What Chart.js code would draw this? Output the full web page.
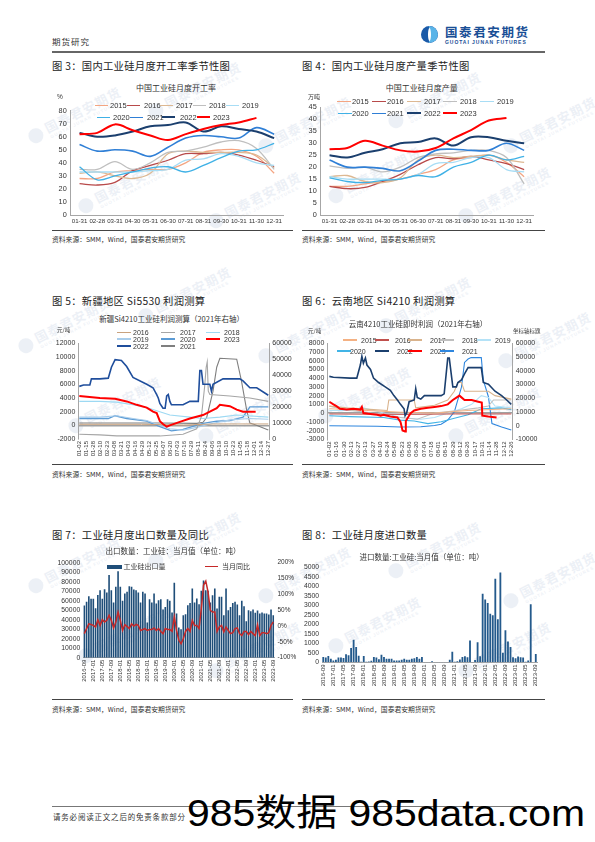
<!DOCTYPE html>
<html><head><meta charset="utf-8">
<script src="https://cdn.jsdelivr.net/npm/chart.js@4.4.0/dist/chart.umd.min.js"></script>
<style>
body{margin:0;background:#fff;}
#page{position:relative;width:595px;height:842px;overflow:hidden;font-family:"Noto Sans CJK SC",sans-serif;color:#222;background:#fff;}
</style></head><body><div id="page"></div>
<script>
// ---------------- DATA ----------------
const monthLabels = ['01-31','02-28','03-31','04-30','05-31','06-30','07-31','08-31','09-30','10-31','11-30','12-31'];
const yearNames = ['2015','2016','2017','2018','2019','2020','2021','2022','2023'];
// Fig 3: operating rate (%)
const rate2015 = [28,28,33,34,35,35,40,48,50,50,45,32];
const rate2016 = [24,23,25,34,38,42,47,47,48,46,42,37];
const rate2017 = [32,33,30,28,32,47,49,48,48,48,46,36];
const rate2018 = [35,35,41,35,40,48,49,52,56,57,51,35];
const rate2019 = [33,33,33,33,34,35,42,43,47,45,40,38];
const rate2020 = [37,27,30,33,36,37,33,38,44,49,50,55];
const rate2021 = [54,49,50,49,45,52,59,61,60,59,67,62];
const rate2022 = [63,60,61,64,68,69,71,64,68,66,64,59];
const rate2023 = [62,63,69.5,65,61,57.5,62,66,69,71,74.5];
// Fig 4: output (10k t)
const out2015 = [12,12,13,14,15,17,19,23,24,25,22,16];
const out2016 = [12,11,11.5,14,17,21,24,23.5,24.5,23,21.5,19];
const out2017 = [16,16.5,14,13.5,15.5,23,25,24,24.5,25,23,22];
const out2018 = [20.5,19.5,20,18,20,24,25.5,26,27,27,24,13];
const out2019 = [16,15,15,15,15,17,21.5,22,24,24,19,18];
const out2020 = [15.5,14,13.5,14.5,15,16.5,16,20,22,25,23,24.5];
const out2021 = [23,20,20,19.5,18.5,22.5,27,27.5,27,27,30,27];
const out2022 = [25,24,26,27.5,30,30.5,32,29,32.5,32.5,31,30];
const out2023 = [27.5,28,31,29,27,26.5,28,32,35.5,39.5,40.5];
// Fig 5: Xinjiang profit, [day-of-year, yuan/t]; 2021 on right axis
const xLabels5 = ['01-02','01-15','01-28','02-10','02-23','03-08','03-21','04-03','04-16','04-29','05-12','05-25','06-07','06-20','07-03','07-16','07-29','08-11','08-24','09-06','09-19','10-10','10-23','11-05','11-18','12-01','12-14','12-27'];
const xj2016 = [[2,150],[120,150],[200,50],[260,200],[361,200]];
const xj2017 = [[2,-1300],[41,-1400],[73,-1550],[155,-1550],[199,-1300],[225,-500],[234,1300],[240,5600],[243,8500],[245,9300],[247,5000],[250,4500],[288,4300],[326,4000],[361,3500]];
const xj2018 = [[2,3500],[41,3500],[73,3400],[104,3000],[130,2600],[155,2000],[174,1500],[212,1200],[237,1000],[269,1200],[301,1500],[361,1200]];
const xj2019 = [[2,1200],[41,1200],[73,1400],[104,1000],[130,700],[155,0],[174,-500],[199,-700],[225,-300],[256,300],[288,800],[326,1000],[361,900]];
const xj2020 = [[2,1000],[57,1000],[70,1400],[92,1000],[130,600],[155,-200],[177,-800],[199,-600],[237,300],[263,600],[288,700],[313,1200],[326,2700],[361,2700]];
const xj2022 = [[2,5700],[10,5900],[22,5900],[25,6800],[41,6800],[57,6900],[63,8500],[70,9600],[82,9500],[92,8600],[104,7000],[130,6000],[142,5500],[149,4500],[152,4000],[155,3200],[161,2500],[165,2500],[168,4300],[171,4500],[174,3500],[177,3000],[199,3000],[212,3500],[228,3500],[231,8000],[234,8000],[237,6000],[250,6000],[253,5000],[256,6000],[275,6800],[307,6800],[313,6500],[326,5500],[339,5500],[361,4400]];
const xj2023 = [[2,4300],[41,4000],[70,3900],[92,3500],[111,3000],[130,2600],[142,2000],[149,1800],[155,600],[161,200],[168,-200],[174,0],[193,500],[212,1000],[237,1500],[250,2000],[263,2500],[269,3000],[288,2800],[301,2300],[313,2000],[337,2000]];
const xj2021 = [[2,10000],[155,10000],[225,9800],[237,10500],[244,13500],[256,30000],[263,45000],[269,50600],[301,50000],[310,36500],[320,18000],[326,10000],[336,9000],[361,5600]];
// Fig 6: Yunnan profit, [day-of-year, yuan/t]; 2021 on right axis
const xLabels6 = ['01-02','01-16','01-30','02-13','02-27','03-13','03-27','04-10','04-24','05-08','05-23','06-06','06-20','07-04','07-18','08-01','08-15','08-29','09-12','09-26','10-17','10-31','11-14','11-28','12-12','12-26'];
const yn2015 = [[2,500],[76,300],[142,100],[209,0],[275,300],[360,500]];
const yn2016 = [[2,-100],[150,-150],[250,-100],[360,-100]];
const yn2017 = [[2,800],[36,600],[89,400],[116,300],[119,1500],[169,1500],[172,600],[209,900],[235,1500],[248,2500],[255,3500],[262,3500],[268,2500],[315,2500],[328,2000],[360,1600]];
const yn2018 = [[2,800],[43,300],[76,100],[109,-300],[142,-500],[175,-700],[209,0],[255,300],[295,600],[315,800],[325,1500],[360,1500]];
const yn2019 = [[2,300],[56,300],[63,700],[76,500],[109,0],[142,-500],[182,-700],[209,-500],[235,0],[262,500],[282,1000],[301,2000],[315,1800],[328,800],[360,600]];
const yn2020 = [[2,-300],[43,-400],[109,-500],[142,-800],[169,-900],[196,-1200],[222,-1000],[248,-600],[275,-200],[301,500],[341,600],[360,400]];
const yn2022 = [[2,4200],[10,4100],[43,4000],[56,4000],[63,5500],[66,6500],[69,5700],[73,6300],[76,5500],[83,5000],[89,4000],[99,3500],[112,3000],[122,2600],[129,2000],[136,1500],[142,1000],[149,500],[151,-300],[154,0],[159,1300],[169,1500],[172,2800],[175,1800],[182,1600],[189,2000],[222,2000],[228,2200],[235,6300],[238,6300],[245,3000],[252,3000],[255,3500],[262,3800],[268,4500],[275,5200],[301,5200],[305,3500],[315,3300],[328,2500],[341,2000],[351,1500],[360,1000]];
const yn2023 = [[2,1300],[10,1000],[16,800],[23,500],[36,400],[49,500],[63,400],[66,700],[69,0],[83,-100],[96,-200],[103,-300],[109,-200],[122,-400],[136,-500],[142,-1000],[146,-2000],[151,-2100],[152.5,-900],[162,0],[169,300],[182,500],[196,600],[209,700],[222,800],[235,1000],[245,1500],[258,2000],[268,1500],[282,1500],[295,1300],[302,1200],[303,-300],[315,-400],[331,-500]];
const yn2021 = [[2,-100],[96,-500],[142,-1000],[182,-900],[209,0],[222,1000],[235,4000],[248,10000],[262,28000],[268,46000],[275,48500],[281,49500],[301,49500],[305,33000],[315,21000],[322,1500],[341,-1000],[360,-3300]];
// Fig 7/8 monthly, 2016-09 .. 2023-09
const exportQty = [55000,59000,64800,62000,62000,52000,66000,71000,62000,72000,68600,87000,71000,58000,74600,91000,74600,60000,67600,69400,75300,74600,71800,71000,68600,58000,69400,67600,37000,61600,58000,67600,57000,60600,61600,50700,53500,61600,60000,47500,78900,46500,31700,30000,44700,45800,55300,57700,72900,58100,62300,56300,70400,81300,71100,70400,58100,65800,72900,51800,64100,64100,44700,72900,50000,53500,57700,58800,56000,44700,59900,54200,38400,50000,48900,50700,47200,49600,46500,47500,46500,46500,45400,50700,44700];
const exportYoY = [-24,-8,7,5,2,-3,20,2,20,13,18,34,18,-6,13,44,18,-14,4,-1,-8,7,0,5,2,-14,-11,-8,-14,-11,-11,-6,-14,-8,-17,-24,-8,-11,-11,-17,29,-14,-45,-56,-40,-17,-8,-17,18,2,2,-8,55,129,142,108,50,44,44,-17,-3,2,-19,-3,-14,-24,-21,-8,-6,-24,-30,-17,-17,-27,-17,-24,-30,4,-30,-21,-21,-24,-21,2,13];
const importQty = [280,250,330,190,90,140,250,250,230,420,370,750,1190,800,350,30,330,30,40,80,280,250,160,400,280,190,190,190,100,100,100,140,190,140,140,190,210,280,190,280,20,10,10,60,20,10,10,10,10,10,140,550,30,60,150,280,320,260,1150,20,120,1050,320,3610,3310,3120,2550,2480,4400,2270,4720,500,1690,1100,800,270,210,300,270,250,30,90,3050,0,440];
const tradeMonths = [];
for (let k = 0; k < exportQty.length; k++) { const m = 8 + k; tradeMonths.push((2016 + Math.floor(m / 12)) + '-' + String(m % 12 + 1).padStart(2, '0')); }

// ---------------- PAGE HELPERS ----------------
const P = document.getElementById('page');
function el(css, html){const e=document.createElement('div'); e.style.cssText='position:absolute;white-space:nowrap;line-height:1;'+css; if(html!=null) e.innerHTML=html; P.appendChild(e); return e;}
function txt(s,x,y,size,extra){return el(`left:${x}px;top:${y-size/2}px;height:${size}px;font-size:${size}px;${extra||''}`, s);}
function ctxt(s,x,y,size,extra){return el(`left:${x-150}px;width:300px;text-align:center;top:${y-size/2}px;height:${size}px;font-size:${size}px;${extra||''}`, s);}
function hline(x1,x2,y,w,c){el(`left:${x1}px;top:${y}px;width:${x2-x1}px;height:${w}px;background:${c}`);}
function cnv(x,y,w,h){const d=el(`left:${x}px;top:${y}px;width:${w}px;height:${h}px`); const c=document.createElement('canvas'); c.width=w; c.height=h; c.style.width=w+'px'; c.style.height=h+'px'; d.appendChild(c); return c;}
function legLine(x,y,len,lw,color,label,tx,fs,fam){el(`left:${x}px;top:${y-lw/2}px;width:${len}px;height:${lw}px;background:${color}`); txt(label,tx,y,fs||7.5,'font-family:'+(fam||'"Liberation Sans",Arial')+';color:#333');}

// faint page watermark tiles
const wmSpots=[[70,120],[190,95],[300,130],[430,105],[545,130],[120,190],[250,205],[370,180],[500,200],[60,330],[180,300],[300,340],[420,310],[540,345],[110,410],[240,420],[360,400],[490,420],[70,570],[190,545],[300,580],[430,555],[545,585],[120,640],[250,655],[370,630],[500,655]];
wmSpots.forEach(([x,y])=>{el(`left:${x-45}px;top:${y-12}px;width:90px;height:24px;transform:rotate(-27deg);opacity:0.08;color:#1a4f96`,
 '<div style="position:absolute;left:0;top:3px;width:15px;height:15px;border-radius:50%;background:#1a4f96"></div><div style="position:absolute;left:19px;top:2px;font-size:13px;font-weight:700;letter-spacing:1px">国泰君安期货</div><div style="position:absolute;left:20px;top:17px;font-size:4.5px;font-family:Liberation Sans;font-weight:700;letter-spacing:1px">GUOTAI JUNAN FUTURES</div>');});

// header
txt('期货研究',52,41,8.5,'letter-spacing:1px;color:#333');
el('left:421px;top:26px;width:17px;height:17px;border-radius:50%;background:#1a5aa8;overflow:hidden','<div style="position:absolute;left:8px;top:0;width:9px;height:17px;background:#5ab4e8;border-radius:0 9px 9px 0"></div><div style="position:absolute;left:6.5px;top:2px;width:3px;height:13px;background:#fff;border-radius:50%"></div>');
txt('国泰君安期货',445,32.5,12.5,'font-weight:700;color:#1a4f96;letter-spacing:1.6px');
txt('GUOTAI JUNAN FUTURES',445,42.5,5,'font-family:"Liberation Sans",Arial;font-weight:700;color:#1a4f96;letter-spacing:0.95px');
hline(52,545,51,1.5,'#666');

// titles / lines / sources
const titleCss='color:#222;letter-spacing:0.3px';
txt('图 3：国内工业硅月度开工率季节性图',52,66.5,10.3,titleCss);
txt('图 4：国内工业硅月度产量季节性图',302,66.5,10.3,titleCss);
txt('图 5：新疆地区 Si5530 利润测算',52,301.5,10.3,titleCss);
txt('图 6：云南地区 Si4210 利润测算',302,301.5,10.3,titleCss);
txt('图 7：工业硅月度出口数量及同比',52,535,10.3,titleCss);
txt('图 8：工业硅月度进口数量',302,535,10.3,titleCss);
[229.5,463.5,698.5].forEach(y=>{hline(52,293,y,1.2,'#444');hline(302,545,y,1.2,'#444');});
const src='资料来源：SMM，Wind，国泰君安期货研究';
[239,474,709].forEach(y=>{txt(src,52,y,6.8,'color:#333');txt(src,302,y,6.8,'color:#333');});

// footer
hline(52,545,806,1,'#777');
txt('请务必阅读正文之后的免责条款部分',53,817,7.5,'color:#333;letter-spacing:0.8px');
const wm = txt('985数据 985data.com',187,813,37,'font-family:"Liberation Sans","Noto Sans CJK SC",Arial;color:#000;transform-origin:0 50%');

// ---------------- CHART SETUP ----------------
Chart.defaults.font.family='"Liberation Sans", Arial, sans-serif';
Chart.defaults.color='#333';
Chart.defaults.animation=false;
Chart.defaults.plugins.legend.display=false;
Chart.defaults.plugins.tooltip.enabled=false;
const AX='#a6a6a6';
const plain=v=>String(v);

const seasonColors=['#F4A582','#B84A4A','#DDB892','#BFBFBF','#A8DDF5','#3FB1E6','#2F7FD6','#1B3F6E','#FF0000'];
const seasonWidths=[1.3,1.3,1.3,1.3,1.3,1.3,1.6,2,2];

function seasonal(c, series, yMax, yStep, padTop, padRight, yW){
  new Chart(c,{type:'line',data:{labels:monthLabels,datasets:series.map((d,i)=>({data:d,borderColor:seasonColors[i],borderWidth:seasonWidths[i],pointRadius:0,tension:0.35,fill:false,order:series.length-i}))},
  options:{responsive:false,layout:{padding:{top:padTop,right:padRight,left:0,bottom:0}},scales:{
    x:{offset:true,grid:{display:false,drawTicks:false},border:{color:AX},ticks:{autoSkip:false,maxRotation:0,minRotation:0,font:{size:6.1},padding:3},afterFit:s=>{s.height=15;}},
    y:{min:0,max:yMax,ticks:{stepSize:yStep,autoSkip:false,font:{size:7.3},padding:4,callback:plain},grid:{display:false,drawTicks:false},border:{color:AX},afterFit:s=>{s.width=yW;}}
  }}});
}
// Fig 3
seasonal(cnv(52,100,241,130),[rate2015,rate2016,rate2017,rate2018,rate2019,rate2020,rate2021,rate2022,rate2023],80,10,10.7,10,18.7);
ctxt('中国工业硅月度开工率',176,88,8,'color:#333');
txt('%',57,97,6.5,'font-family:"Liberation Sans";color:#333');
[[95,105.7,110],[127,105.7,144],[160,105.7,176],[193,105.7,209],[226,105.7,242],[97,117.3,113],[130,117.3,147],[162,117.3,180],[197,117.3,213]].forEach((p,i)=>legLine(p[0],p[1],13,seasonWidths[i],seasonColors[i],yearNames[i],p[2]));
// Fig 4
seasonal(cnv(302,96,243,134),[out2015,out2016,out2017,out2018,out2019,out2020,out2021,out2022,out2023],45,5,11.3,12,18.7);
ctxt('中国工业硅月度产量',421.7,88.3,8,'color:#333');
txt('万吨',308,96.7,6,'color:#333');
[[337,101.7,352],[372,101.7,387],[407,101.7,424],[443,101.7,460],[480,101.7,497],[338,113.3,352],[372,113.3,387],[407,113.3,424],[443,113.3,460]].forEach((p,i)=>legLine(p[0],p[1],14,seasonWidths[i],seasonColors[i],yearNames[i],p[2]));

// daily profit charts
function profit(c, sets, opts){
  const ticks=opts.labels.map((_,i)=>opts.d0+i*(opts.d1-opts.d0)/(opts.labels.length-1));
  new Chart(c,{type:'line',data:{datasets:sets.map(s=>({data:s.data,borderColor:s.color,borderWidth:s.w,pointRadius:0,tension:0,fill:false,yAxisID:s.right?'y2':'y',order:s.order}))},
  options:{responsive:false,layout:{padding:{top:opts.padTop,right:0,left:0,bottom:0}},scales:{
    x:{type:'linear',min:opts.xmin,max:opts.xmax,afterBuildTicks:s=>{s.ticks=ticks.map(v=>({value:v}));},ticks:{autoSkip:false,maxRotation:90,minRotation:90,font:{size:6},padding:2,callback:(v,i)=>opts.labels[i]},grid:{display:false,drawTicks:false},border:{display:false},afterFit:s=>{s.height=opts.xH;}},
    y:{min:opts.ymin,max:opts.ymax,ticks:{stepSize:opts.ystep,autoSkip:false,font:{size:7},padding:3,callback:plain},grid:{drawTicks:false,color:g=>g.tick.value===0?'#a0a0a0':'rgba(0,0,0,0)',lineWidth:1.6},border:{color:AX},afterFit:s=>{s.width=opts.yW;}},
    y2:{position:'right',min:opts.y2min,max:opts.y2max,ticks:{stepSize:opts.y2step,autoSkip:false,font:{size:7},padding:3,callback:plain},grid:{display:false,drawTicks:false},border:{color:AX},afterFit:s=>{s.width=opts.y2W;}}
  }}});
}
// Fig 5
const s5=[{n:'2016',data:xj2016,color:'#C9A27E',w:1},{n:'2017',data:xj2017,color:'#A6A6A6',w:1.1},{n:'2018',data:xj2018,color:'#9DD9F3',w:1.1},
 {n:'2019',data:xj2019,color:'#A9CDEB',w:1.1},{n:'2020',data:xj2020,color:'#5B9BD5',w:1.3},{n:'2023',data:xj2023,color:'#FF0000',w:2,order:0},
 {n:'2022',data:xj2022,color:'#1F4E9C',w:1.6,order:1},{n:'2021',data:xj2021,color:'#7F7F7F',w:1.1,right:true}];
s5.forEach((s,i)=>{if(s.order==null)s.order=5+i;});
profit(cnv(52,336,245,127),s5,{labels:xLabels5,d0:2,d1:361,xmin:0.1,xmax:362.9,padTop:7.3,xH:24,ymin:-2000,ymax:12000,ystep:2000,y2min:0,y2max:60000,y2step:10000,yW:26.3,y2W:27.7});
ctxt('新疆Si4210工业硅利润测算（2021年右轴）',171.7,318.3,7.5,'color:#333');
txt('元/吨',57,330.7,5.5,'color:#333');
[[117,332.3,133],[161,332.3,180],[206,332.3,224],[117,339,133],[161,339,180],[206,339,224],[117,346,133],[161,346,180]].forEach((p,i)=>{const s=s5[i];legLine(p[0],p[1],14,Math.max(1.2,s.w),s.color,s.n,p[2],7);});
// Fig 6
const s6=[{n:'2015',data:yn2015,color:'#F4B183',w:1},{n:'2016',data:yn2016,color:'#C0504D',w:1},{n:'2017',data:yn2017,color:'#D9B38C',w:1.1},{n:'2018',data:yn2018,color:'#BFBFBF',w:1.1},
 {n:'2019',data:yn2019,color:'#B4E2F7',w:1.1},{n:'2020',data:yn2020,color:'#41B4E6',w:1.1},{n:'2022',data:yn2022,color:'#1B3F6E',w:1.6,order:1},{n:'2023',data:yn2023,color:'#FF0000',w:2,order:0},{n:'2021',data:yn2021,color:'#2E86DE',w:1.1,right:true}];
s6.forEach((s,i)=>{if(s.order==null)s.order=5+i;});
profit(cnv(302,336,243,127),s6,{labels:xLabels6,d0:2,d1:360,xmin:-2,xmax:362.8,padTop:6.3,xH:23.7,ymin:-3000,ymax:8000,ystep:1000,y2min:-10000,y2max:60000,y2step:10000,yW:25.3,y2W:32.3});
ctxt('云南4210工业硅即时利润（2021年右轴）',418,323.3,7.5,'color:#333');
txt('元/吨',308,331.7,5.5,'color:#333');
txt('坐标轴标题',513,331.7,5.5,'color:#333');
[[343,340,361],[375,340,395],[408,340,430],[440,340,462],[477,340,495],[337,351,350],[375,351,397],[408,351,430],[440,351,462]].forEach((p,i)=>{const s=s6[i];legLine(p[0],p[1],14,Math.max(1.2,s.w),s.color,s.n,p[2],7);});

// Fig 7
new Chart(cnv(52,555,245,141),{data:{labels:tradeMonths,datasets:[
  {type:'line',data:exportYoY,yAxisID:'y1',borderColor:'#C62828',borderWidth:1.5,pointRadius:0,tension:0,order:0},
  {type:'bar',data:exportQty,yAxisID:'y',backgroundColor:'#1F4E79',barPercentage:0.72,categoryPercentage:1,order:1}]},
 options:{responsive:false,layout:{padding:{top:7.7,right:0,left:0,bottom:0}},scales:{
  x:{offset:true,grid:{display:false,drawTicks:false},border:{color:AX},ticks:{autoSkip:false,maxRotation:90,minRotation:90,font:{size:6},padding:2,callback:(v,i)=>i%4===0?tradeMonths[i]:''},afterFit:s=>{s.height=38.3;}},
  y:{min:0,max:100000,ticks:{stepSize:10000,autoSkip:false,font:{size:6.8},padding:3,callback:plain},grid:{display:false,drawTicks:false},border:{display:false},afterFit:s=>{s.width=31.2;}},
  y1:{position:'right',min:-100,max:200,ticks:{stepSize:50,autoSkip:false,font:{size:6.5},padding:3,callback:v=>v+'%'},grid:{display:false,drawTicks:false},border:{display:false},afterFit:s=>{s.width=22.6;}}
 }}});
ctxt('出口数量：工业硅：当月值（单位：吨）',173,551,7.5,'color:#333');
el('left:106.5px;top:564.5px;width:15px;height:4.5px;background:#1F4E79');
txt('工业硅出口量',123.5,566.7,7,'color:#333');
legLine(205,566.7,13,1.6,'#C62828','当月同比',222,7,'"Noto Sans CJK SC"');

// Fig 8
new Chart(cnv(302,560,243,136),{type:'bar',data:{labels:tradeMonths,datasets:[
  {data:importQty,backgroundColor:'#245A8C',barPercentage:0.72,categoryPercentage:1}]},
 options:{responsive:false,layout:{padding:{top:7.3,right:2.7,left:0,bottom:0}},scales:{
  x:{offset:true,grid:{display:false,drawTicks:false},border:{color:AX},ticks:{autoSkip:false,maxRotation:90,minRotation:90,font:{size:6},padding:2,callback:(v,i)=>i%4===0?tradeMonths[i]:''},afterFit:s=>{s.height=33.7;}},
  y:{min:0,max:5000,ticks:{stepSize:500,autoSkip:false,font:{size:6.8},padding:3,callback:plain},grid:{display:false,drawTicks:false},border:{display:false},afterFit:s=>{s.width=20;}}
 }}});
ctxt('进口数量:工业硅:当月值（单位：吨）',421.7,556.7,7.5,'color:#333');

// scale watermark text to its reference width
const wr=wm.getBoundingClientRect();
wm.style.transform='scaleX('+(398/wr.width)+')';
</script></body></html>
